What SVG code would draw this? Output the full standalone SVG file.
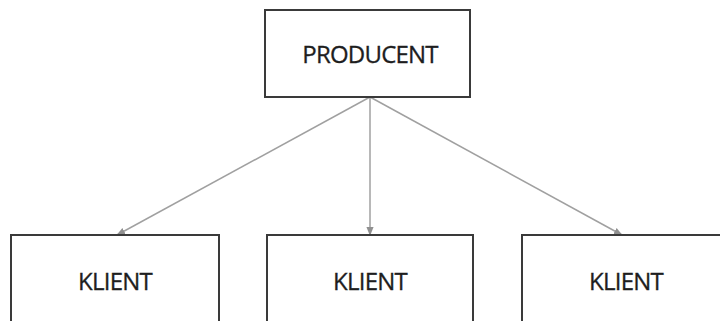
<svg xmlns="http://www.w3.org/2000/svg" width="720" height="321" viewBox="0 0 720 321">
<style>
.box{fill:#fff;stroke:#3a3a3a;stroke-width:2}
.lbl{font-family:"Open Sans",sans-serif;font-size:24px;fill:#1e1e1e;text-anchor:middle;letter-spacing:-0.8px;stroke:#1e1e1e;stroke-width:0.3}
.con{stroke:#a0a0a0;stroke-width:1.5;fill:none;marker-end:url(#ah)}
</style>
<defs>
<marker id="ah" viewBox="0 0 10 10" refX="9" refY="5" markerWidth="6" markerHeight="6" markerUnits="strokeWidth" orient="auto">
<path d="M0,1 L10,5 L0,9 z" fill="#909090"/>
</marker>
</defs>
<rect width="720" height="321" fill="#fff"/>
<g id="connectors">
<line class="con" x1="370" y1="97" x2="117" y2="235"/>
<line class="con" x1="370" y1="97" x2="370" y2="235"/>
<line class="con" x1="370" y1="97" x2="622" y2="235"/>
</g>
<g id="producent">
<rect class="box" x="265" y="10" width="205" height="87"/>
<text class="lbl" x="370" y="63">PRODUCENT</text>
</g>
<g id="klient1">
<rect class="box" x="11" y="235" width="208" height="100"/>
<text class="lbl" x="115" y="290">KLIENT</text>
</g>
<g id="klient2">
<rect class="box" x="267" y="235" width="206" height="100"/>
<text class="lbl" x="370" y="290">KLIENT</text>
</g>
<g id="klient3">
<rect class="box" x="522" y="235" width="210" height="100"/>
<text class="lbl" x="626" y="290">KLIENT</text>
</g>
</svg>
